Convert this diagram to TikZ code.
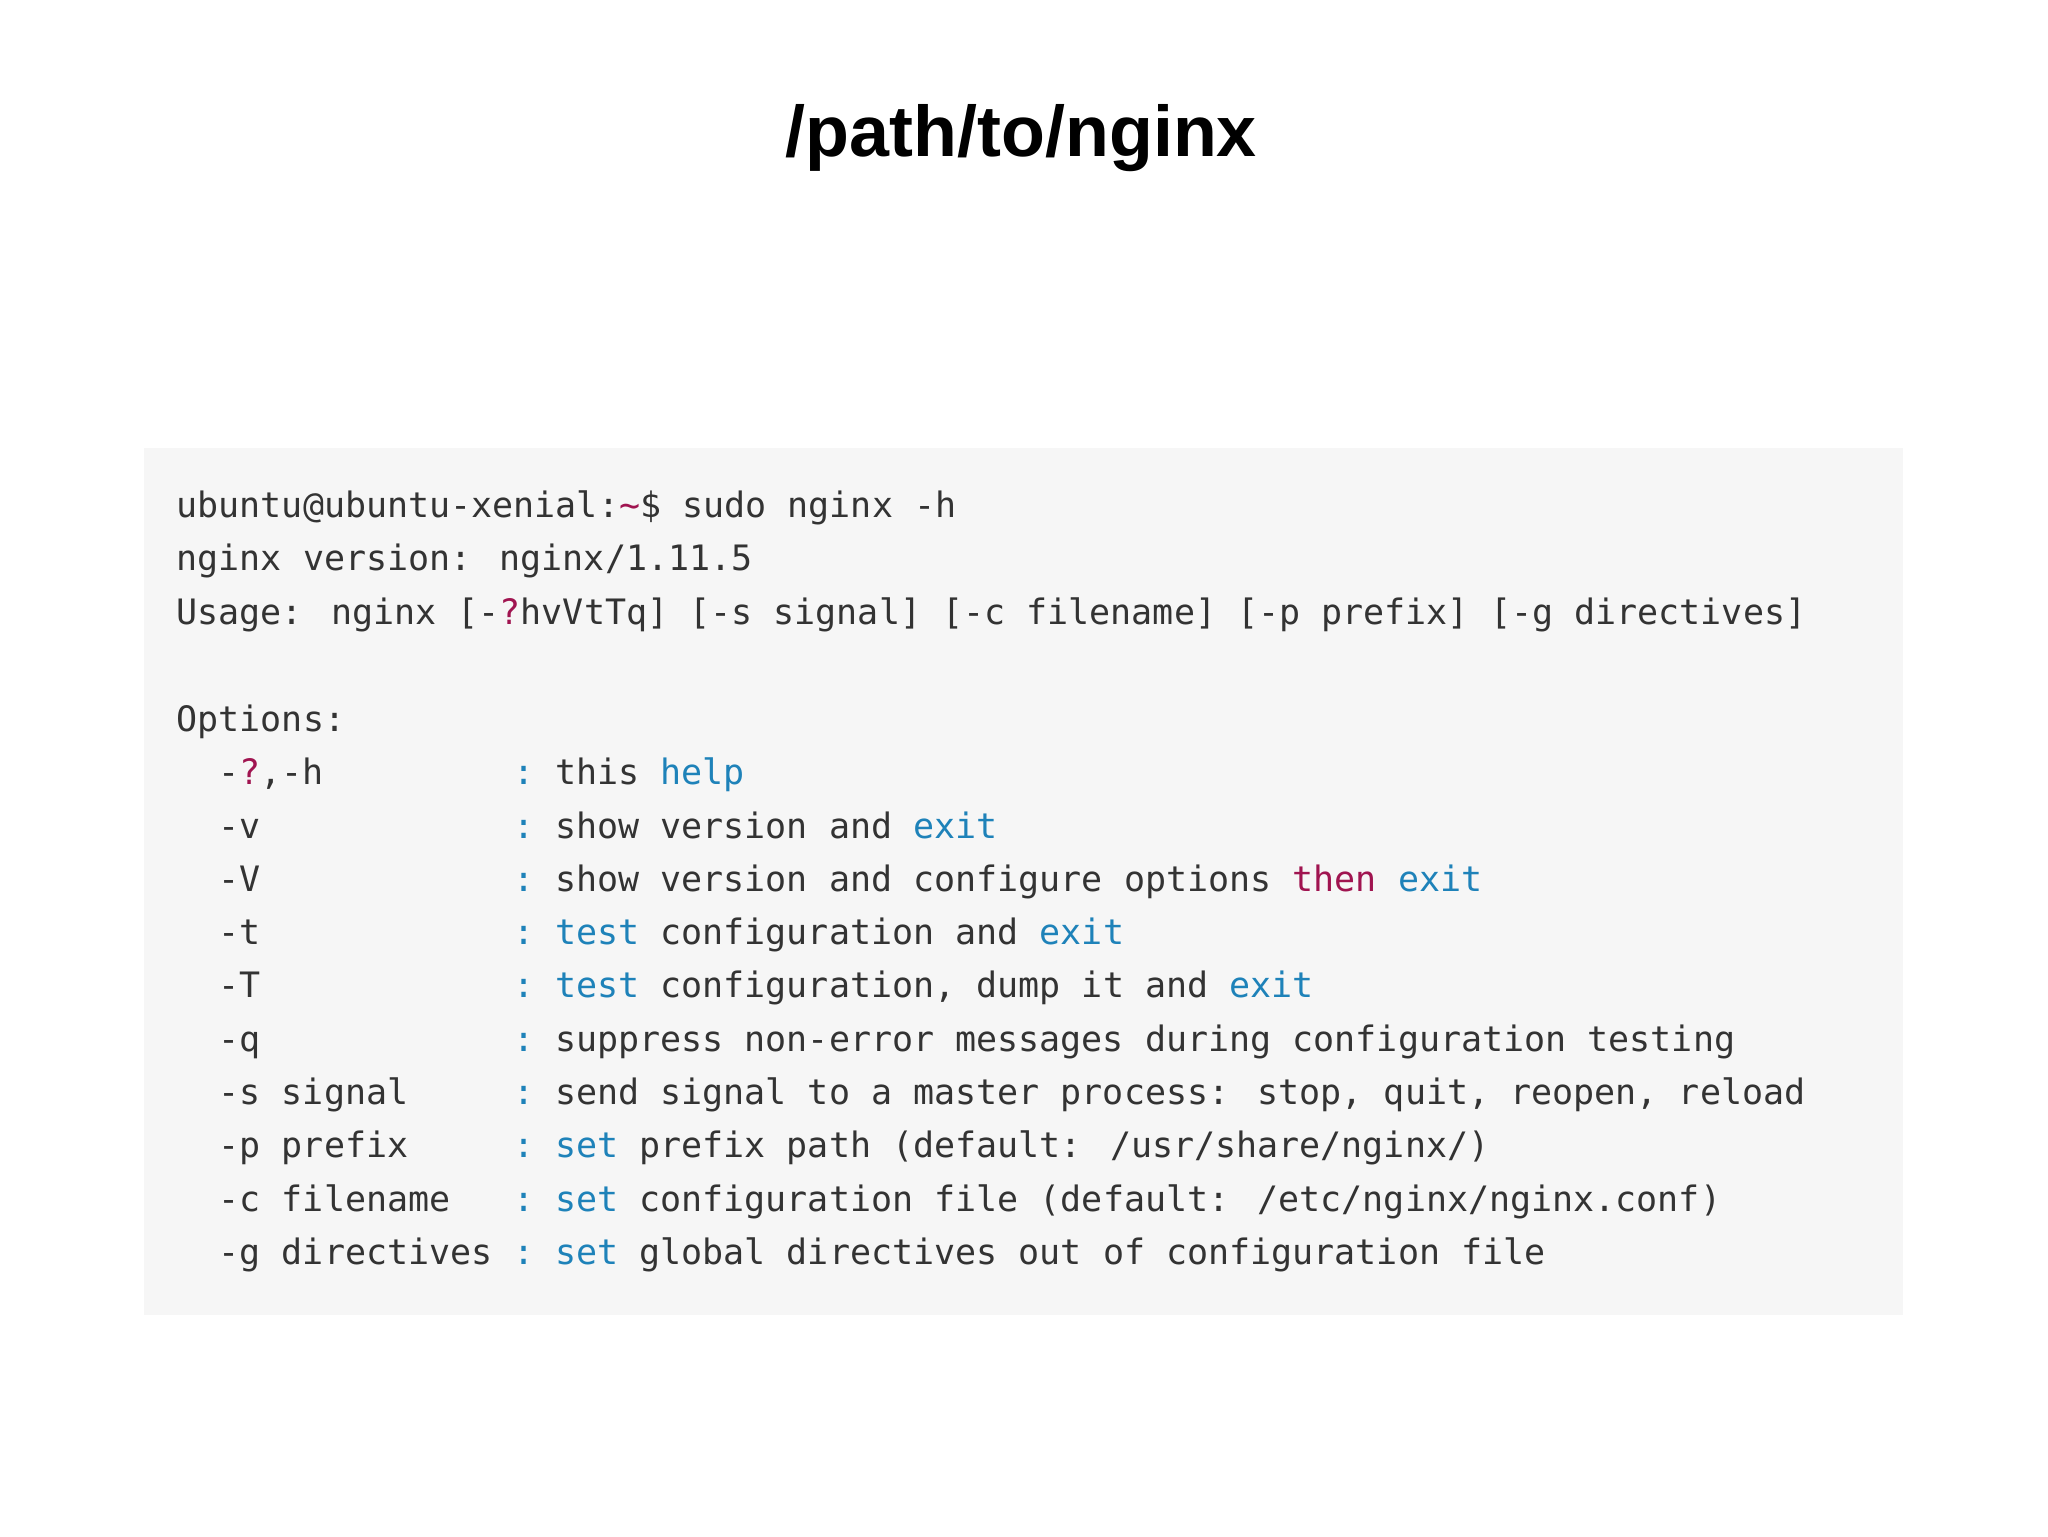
\documentclass[tikz,border=0pt]{standalone}
\usepackage{fontspec}
\setmainfont{Liberation Sans}
\newfontfamily\mono{DejaVu Sans Mono}
\definecolor{txt}{RGB}{51,51,51}
\definecolor{kw}{RGB}{160,20,80}
\definecolor{bl}{RGB}{30,130,185}
\definecolor{boxbg}{RGB}{246,246,246}
\newcommand{\K}[1]{\textcolor{kw}{#1}}
\newcommand{\B}[1]{\textcolor{bl}{#1}}
\begin{document}
\begin{tikzpicture}[x=1pt,y=-1pt,
  ln/.style={anchor=base west,inner sep=0pt,text=txt,font=\mono\fontsize{26.8}{30}\selectfont}]
\useasboundingbox[fill=white] (0,0) rectangle (1568,1176);
\fill[boxbg] (110,343) rectangle (1457,1007);
\node[anchor=base,inner sep=0pt,font=\bfseries\fontsize{55}{60}\selectfont] (title) at (782,120) {/path/to/nginx};
\node[ln] (l1) at (135,396) {ubuntu@ubuntu-xenial:\K{\textasciitilde}\$ sudo nginx -h};
\node[ln] (l2) at (135,437) {nginx version: nginx/1.11.5};
\node[ln] (l3) at (135,478) {Usage: nginx [-\K{?}hvVtTq] [-s signal] [-c filename] [-p prefix] [-g directives]};
\node[ln] (l4) at (135,560) {Options:};
\foreach \i/\o/\d in {
 0/{-\K{?},-h}/{this \B{help}},
 1/{-v}/{show version and \B{exit}},
 2/{-V}/{show version and configure options \K{then} \B{exit}},
 3/{-t}/{\B{test} configuration and \B{exit}},
 4/{-T}/{\B{test} configuration, dump it and \B{exit}},
 5/{-q}/{suppress non-error messages during configuration testing},
 6/{-s signal}/{send signal to a master process: stop, quit, reopen, reload},
 7/{-p prefix}/{\B{set} prefix path (default: /usr/share/nginx/)},
 8/{-c filename}/{\B{set} configuration file (default: /etc/nginx/nginx.conf)},
 9/{-g directives}/{\B{set} global directives out of configuration file}}{
  \node[ln] (o\i) at (167.2,600.8+40.8*\i) {\o};
  \node[ln,text=bl] (c\i) at (392.6,600.8+40.8*\i) {:};
  \node[ln] (d\i) at (424.8,600.8+40.8*\i) {\d};
}
\end{tikzpicture}
\end{document}
